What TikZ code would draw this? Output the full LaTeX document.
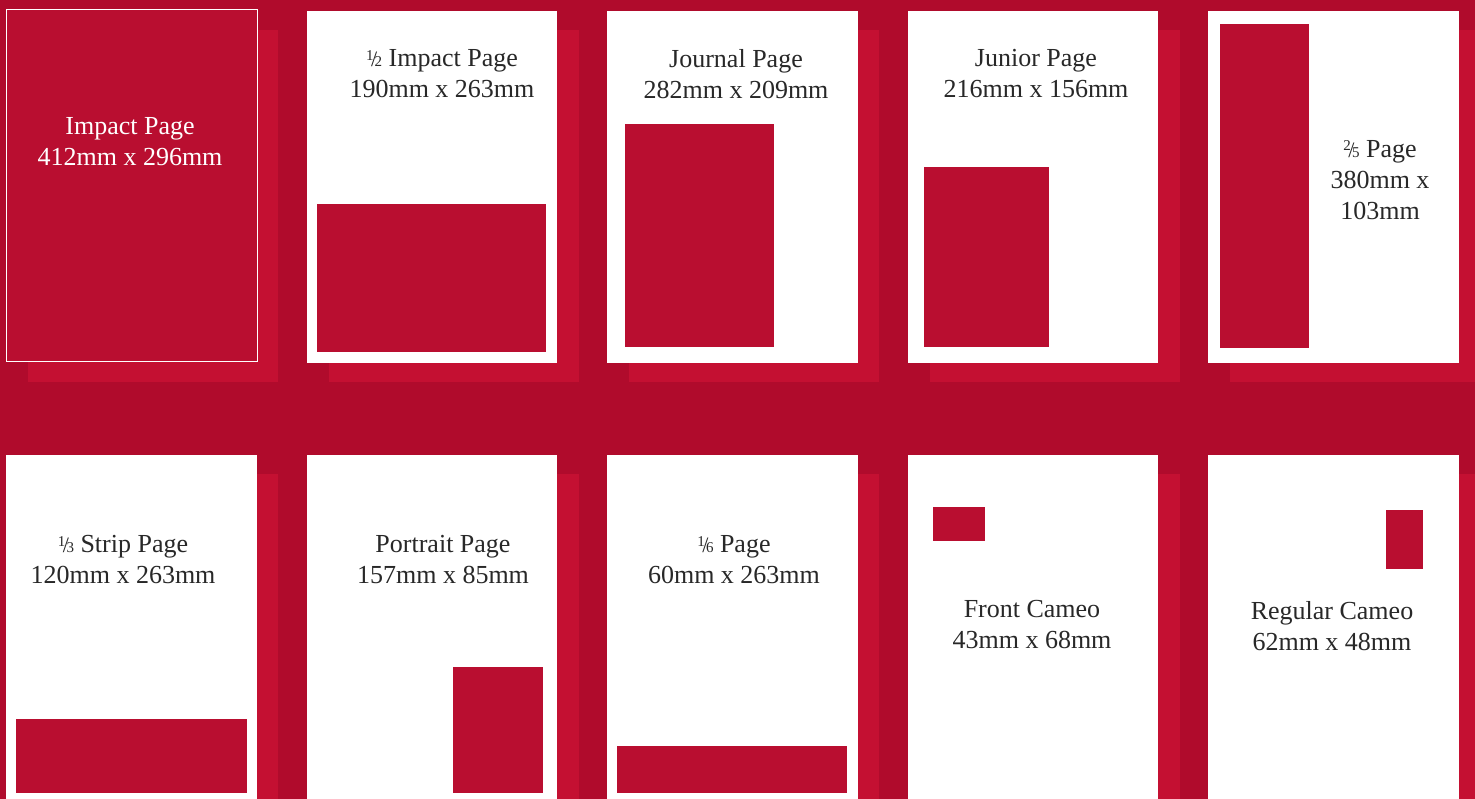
\documentclass[tikz,border=0pt]{standalone}
\usepackage{fontspec}
\setmainfont{Liberation Serif}
\definecolor{pagebg}{RGB}{176,11,44}
\definecolor{shadowred}{RGB}{196,16,50}
\definecolor{adred}{RGB}{185,14,48}
\definecolor{labelgray}{RGB}{40,40,40}
\newcommand{\vfrac}[2]{\raisebox{6.5pt}{\fontsize{15}{15}\selectfont#1}\kern-2.5pt{\fontsize{22}{22}\selectfont/}\kern-2.5pt{\fontsize{15}{15}\selectfont#2}}

\begin{document}
\begin{tikzpicture}[x=1pt, y=-1pt,
  shadow/.style={fill=shadowred},
  card/.style={fill=white},
  ad/.style={fill=adred},
  sizelabel/.style={font=\fontsize{26}{31}\selectfont, align=center, text=labelgray, inner sep=0pt}]
  \fill[pagebg] (0,0) rectangle (1475,799);
  \clip (0,0) rectangle (1475,799);

  \fill[shadow] (28,30) rectangle (278,382);
  \fill[shadow] (329,30) rectangle (579,382);
  \fill[shadow] (629,30) rectangle (879,382);
  \fill[shadow] (930,30) rectangle (1180,382);
  \fill[shadow] (1230,30) rectangle (1480,382);
  \fill[shadow] (28,474) rectangle (278,820);
  \fill[shadow] (329,474) rectangle (579,820);
  \fill[shadow] (629,474) rectangle (879,820);
  \fill[shadow] (930,474) rectangle (1180,820);
  \fill[shadow] (1230,474) rectangle (1480,820);

  \filldraw[ad, draw=white, line width=0.8pt] (6.5,9.5) rectangle (257,361);
  \fill[card] (307,11) rectangle (557,363);
  \fill[card] (607,11) rectangle (858,363);
  \fill[card] (908,11) rectangle (1158,363);
  \fill[card] (1208,11) rectangle (1459,363);
  \fill[card] (6,455) rectangle (257,820);
  \fill[card] (307,455) rectangle (557,820);
  \fill[card] (607,455) rectangle (858,820);
  \fill[card] (908,455) rectangle (1158,820);
  \fill[card] (1208,455) rectangle (1459,820);

  \fill[ad] (317,204) rectangle (546,352);
  \fill[ad] (625,124) rectangle (774,347);
  \fill[ad] (924,167) rectangle (1049,347);
  \fill[ad] (1220,24) rectangle (1309,348);
  \fill[ad] (16,719) rectangle (247,793);
  \fill[ad] (453,667) rectangle (543,793);
  \fill[ad] (617,746) rectangle (847,793);
  \fill[ad] (933,507) rectangle (985,541);
  \fill[ad] (1386,510) rectangle (1423,569);

  \node[sizelabel, text=white] (impact) at (130,142) {Impact Page\\412mm x 296mm};
  \node[sizelabel] (halfimpact) at (442,74) {\vfrac{1}{2} Impact Page\\190mm x 263mm};
  \node[sizelabel] (journal) at (736,74) {Journal Page\\282mm x 209mm};
  \node[sizelabel] (junior) at (1036,74) {Junior Page\\216mm x 156mm};
  \node[sizelabel] (twofifths) at (1380,180) {\vfrac{2}{5} Page\\380mm x\\103mm};
  \node[sizelabel] (strip) at (123,560) {\vfrac{1}{3} Strip Page\\120mm x 263mm};
  \node[sizelabel] (portrait) at (443,560) {Portrait Page\\157mm x 85mm};
  \node[sizelabel] (sixth) at (734,560) {\vfrac{1}{6} Page\\60mm x 263mm};
  \node[sizelabel] (frontcameo) at (1032,625) {Front Cameo\\43mm x 68mm};
  \node[sizelabel] (regcameo) at (1332,626) {Regular Cameo\\62mm x 48mm};
\end{tikzpicture}
\end{document}
